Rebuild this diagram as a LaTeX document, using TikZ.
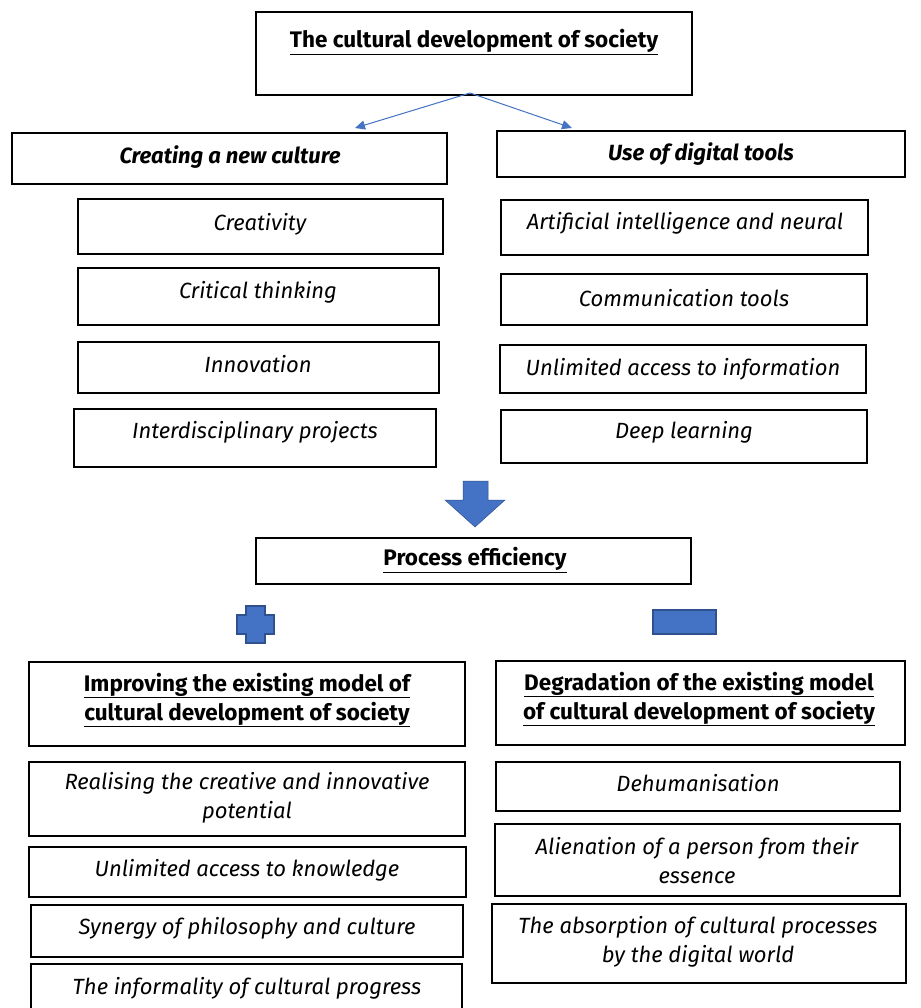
\documentclass[tikz,border=0pt]{standalone}
\usepackage{fontspec}
\setmainfont{Fira Sans}
\usetikzlibrary{fit,arrows.meta}
\definecolor{bl}{HTML}{4472C4}
\definecolor{bld}{HTML}{2F528F}
\tikzset{
  box/.style={draw=black, line width=1.6pt, inner sep=0pt},
  txt/.style={font=\fontsize{22pt}{29pt}\selectfont\itshape, align=center, inner sep=0pt, yshift=-2pt},
  ttl/.style={font=\fontsize{22.5pt}{29pt}\selectfont\bfseries, align=center, inner sep=0pt, yshift=-2pt},
  conn/.style={draw=bl, line width=1pt, -{Triangle[length=10pt,width=9pt]}},
  shp/.style={fill=bl, draw=bld, line width=1.5pt}
}
\newcommand\bx[5]{\node[box, fit={(#2,#3)(#4,#5)}] (#1) {};}
\begin{document}
\begin{tikzpicture}[x=1pt,y=-1pt]
\clip (0,0) rectangle (920,1008);
\fill[white] (0,0) rectangle (920,1008);
% top
\bx{top}{256}{12}{692}{95}
\node[ttl] (toptxt) at (474,40) {\underline{The cultural development of society}};
\coordinate (split) at (470,93);
\bx{cnc}{12}{133}{447}{184}
\node[ttl, font=\fontsize{22pt}{29pt}\selectfont\bfseries\itshape] (cnctxt) at (230,155) {Creating a new culture};
\bx{udt}{497}{131}{905}{177}
\node[ttl, font=\fontsize{22pt}{29pt}\selectfont\bfseries\itshape] (udttxt) at (701,152) {Use of digital tools};
\draw[conn] (split) -- (355,128) coordinate (la);
\draw[conn] (split) -- (572,128) coordinate (ra);
% left column
\bx{l1}{78}{199}{443}{254}
\node[txt] (l1t) at (260,222) {Creativity};
\bx{l2}{78}{268}{439}{325}
\node[txt] (l2t) at (258,290) {Critical thinking};
\bx{l3}{78}{342}{439}{393}
\node[txt] (l3t) at (258,362) {Innovation};
\bx{l4}{74}{409}{436}{467}
\node[txt] (l4t) at (255,430) {Interdisciplinary projects};
% right column
\bx{r1}{501}{200}{868}{255}
\begin{scope}
\clip (501,200) rectangle (868,245);
\node[txt, anchor=north, yshift=0pt] (r1t) at (685,210) {Artificial intelligence and neural\\[6pt]networks};
\end{scope}
\bx{r2}{501}{274}{867}{325}
\node[txt] (r2t) at (684,296) {Communication tools};
\bx{r3}{500}{345}{866}{393}
\node[txt] (r3t) at (683,367) {Unlimited access to information};
\bx{r4}{501}{410}{867}{463}
\node[txt] (r4t) at (684,430) {Deep learning};
% big arrow
\draw[shp, line width=0.5pt] (463,481) -- (488,481) -- (488,500) -- (505,500) -- (475,527) -- (445,500) -- (463,500) -- cycle;
\coordinate (bigarrow) at (475,527);
\bx{pe}{256}{538}{691}{584}
\node[ttl] (pet) at (475,558) {\underline{Process efficiency}};
% plus & minus
\draw[shp] (246,606) -- (265,606) -- (265,615) -- (274,615) -- (274,634) -- (265,634) -- (265,643) -- (246,643) -- (246,634) -- (237,634) -- (237,615) -- (246,615) -- cycle;
\node[shp, minimum width=0pt, inner sep=0pt, fit={(653,610)(716,634)}] (minus) {};
% bottom titles
\bx{imp}{29}{662}{465}{746}
\node[ttl] (impt) at (247,698) {\underline{Improving the existing model of}\\\underline{cultural development of society}};
\bx{deg}{496}{661}{905}{745}
\node[ttl] (degt) at (699,697) {\underline{Degradation of the existing model}\\\underline{of cultural development of society}};
% bottom left
\bx{b1}{29}{762}{465}{836}
\node[txt] (b1t) at (247,796) {Realising the creative and innovative\\potential};
\bx{b2}{29}{847}{466}{897}
\node[txt] (b2t) at (247,868) {Unlimited access to knowledge};
\bx{b3}{31}{905}{463}{957}
\node[txt] (b3t) at (247,926) {Synergy of philosophy and culture};
\bx{b4}{31}{964}{462}{1020}
\node[txt] (b4t) at (247,986) {The informality of cultural progress};
% bottom right
\bx{c1}{496}{762}{900}{811}
\node[txt] (c1t) at (698,781) {Dehumanisation};
\bx{c2}{495}{824}{900}{896}
\node[txt] (c2t) at (697,859) {Alienation of a person from their\\essence};
\bx{c3}{492}{904}{906}{983}
\node[txt] (c3t) at (698,940) {The absorption of cultural processes\\by the digital world};
\end{tikzpicture}
\end{document}
